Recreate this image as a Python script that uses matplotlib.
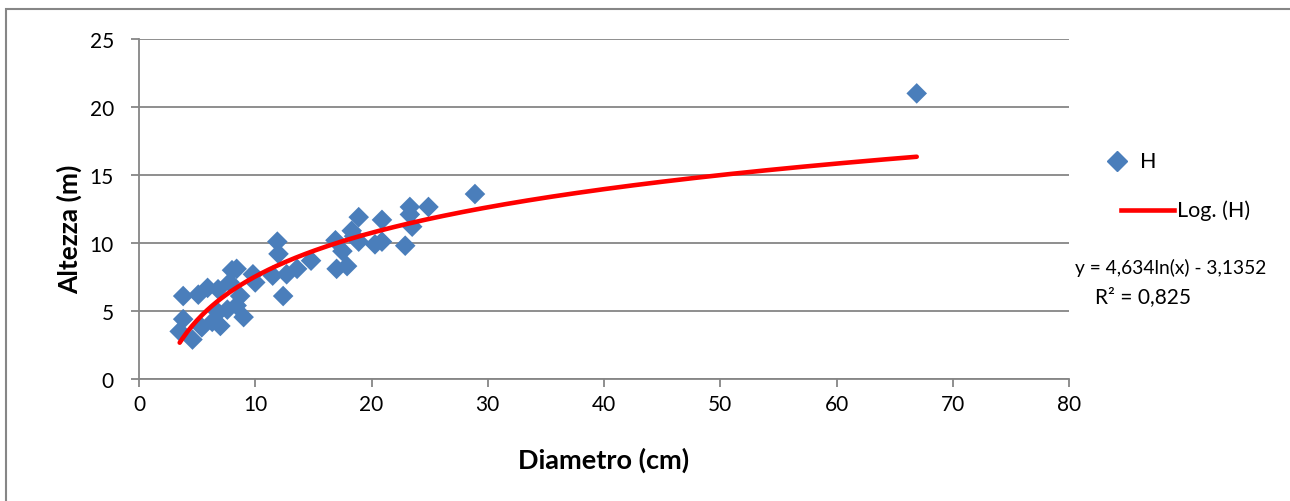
import numpy as np
import matplotlib
matplotlib.use("Agg")
from matplotlib import pyplot as plt
from matplotlib.lines import Line2D
from matplotlib.patches import Rectangle

plt.rcParams['font.family'] = ['Lato', 'DejaVu Sans']

# diametro (cm) e altezza (m)
diametro = [3.5, 3.8, 3.8, 4.6, 5.1, 5.4, 5.9, 6.3, 6.8, 6.8, 7.0, 7.6,
            7.8, 8.0, 8.4, 8.4, 8.7, 9.0, 9.8, 10.0, 11.5, 11.9, 12.0, 12.4,
            12.7, 13.6, 14.8, 16.9, 17.0, 17.5, 17.9, 18.3, 18.5, 18.9, 18.9,
            20.3, 20.9, 20.9, 22.9, 23.3, 23.3, 23.5, 24.9, 28.9, 66.9]
altezza = [3.5, 4.4, 6.1, 2.9, 6.2, 3.8, 6.7, 4.2, 6.6, 4.9, 3.9, 5.1,
           7.1, 8.0, 8.1, 5.4, 6.1, 4.55, 7.7, 7.1, 7.6, 10.1, 9.2, 6.1,
           7.7, 8.1, 8.7, 10.2, 8.1, 9.4, 8.3, 10.9, 10.5, 11.9, 10.1,
           9.9, 11.7, 10.1, 9.8, 12.65, 12.1, 11.2, 12.65, 13.6, 21.0]

# linea di tendenza logaritmica (coefficienti dall'etichetta)
coef_a = 4.634
coef_b = -3.1352
r2 = 0.825

blu = '#4A7EBB'
rosso = '#FF0000'
grigio = '#868686'

fig = plt.figure(figsize=(12.9, 5.02), dpi=100)
ax = fig.add_axes([139 / 1290, 1 - 380 / 502, 930 / 1290, 340 / 502])

ax.scatter(diametro, altezza, marker='D', s=110, color=blu, edgecolors='none',
           zorder=3)
xt = np.linspace(min(diametro), max(diametro), 300)
ax.plot(xt, coef_a * np.log(xt) + coef_b, color=rosso, lw=3.3,
        solid_capstyle='round', zorder=4)

ax.set_xlim(0, 80)
ax.set_ylim(0, 25)
ax.set_xticks(range(0, 81, 10))
ax.set_yticks(range(0, 26, 5))
ax.grid(axis='y', color=grigio, lw=1.3)
ax.set_axisbelow(True)
for s in ['top', 'right']:
    ax.spines[s].set_visible(False)
for s in ['left', 'bottom']:
    ax.spines[s].set_color(grigio)
    ax.spines[s].set_linewidth(1.3)
ax.tick_params(colors=grigio, labelcolor='black', labelsize=15, length=6,
               width=1.3)
ax.tick_params(axis='y', pad=12)
ax.tick_params(axis='x', pad=5)

ax.set_xlabel('Diametro (cm)', fontsize=19.5, fontweight='bold')
ax.set_ylabel('Altezza (m)', fontsize=19, fontweight='bold')
ax.xaxis.set_label_coords(0.5, (380 - 448) / 340)
ax.yaxis.set_label_coords((82 - 139) / 930, (380 - 229) / 340)

# legenda disegnata a mano
def fx(px):
    return px / 1290

def fy(py):
    return 1 - py / 502

fig.add_artist(Line2D([fx(1117)], [fy(162)], marker='D', ls='none',
                      color=blu, markersize=10.5))
fig.text(fx(1140), fy(162), 'H', va='center', ha='left', fontsize=15.5)
fig.add_artist(Line2D([fx(1121), fx(1174)], [fy(211), fy(211)], color=rosso,
                      lw=3.3))
fig.text(fx(1177), fy(211), 'Log. (H)', va='center', ha='left', fontsize=15.5)

fig.text(fx(1171), fy(268),
         'y = %sln(x) - %s' % (str(coef_a).replace('.', ','),
                               str(-coef_b).replace('.', ',')),
         ha='center', va='center', fontsize=13.8)
fig.text(fx(1143), fy(297), 'R² = %s' % str(r2).replace('.', ','),
         ha='center', va='center', fontsize=15)

fig.patches.append(Rectangle((fx(6), -0.1), 1.2, fy(10) + 0.1,
                             transform=fig.transFigure, fill=False,
                             edgecolor=grigio, lw=1.5))

fig.savefig('out.png', dpi=100)
